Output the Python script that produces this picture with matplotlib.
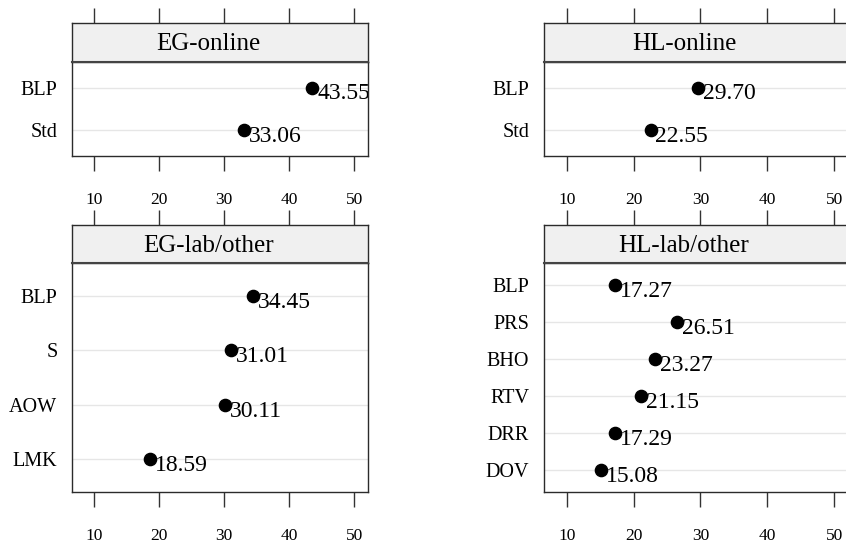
import matplotlib
matplotlib.use("Agg")
import matplotlib.pyplot as plt
from matplotlib.transforms import offset_copy

plt.rcParams['font.family'] = ['Liberation Serif', 'DejaVu Serif']

# Panel contents
eg_online_labels = ["BLP", "Std"]
eg_online_values = [43.55, 33.06]

hl_online_labels = ["BLP", "Std"]
hl_online_values = [29.70, 22.55]

eg_lab_labels = ["BLP", "S", "AOW", "LMK"]
eg_lab_values = [34.45, 31.01, 30.11, 18.59]

hl_lab_labels = ["BLP", "PRS", "BHO", "RTV", "DRR", "DOV"]
hl_lab_values = [17.27, 26.51, 23.27, 21.15, 17.29, 15.08]

x_ticks = [10, 20, 30, 40, 50]
x_limits = (6.57, 52.15)

W, H = 846, 545
fig = plt.figure(figsize=(W / 100, H / 100), dpi=100)


def box(x0, x1, ytop, ybot):
    return [x0 / W, 1 - ybot / H, (x1 - x0) / W, (ybot - ytop) / H]


FRAME = "#2b2b2b"
TICK = "#333333"


def panel(title, labels, values, x0, x1, strip_top, panel_top, panel_bot):
    ax = fig.add_axes(box(x0, x1, panel_top, panel_bot))
    st = fig.add_axes(box(x0, x1, strip_top, panel_top))

    n = len(labels)
    ys = list(range(n, 0, -1))
    ax.set_xlim(*x_limits)
    ax.set_ylim(0.4, n + 0.6)
    for y in ys:
        ax.axhline(y, color="#e6e6e6", lw=1.0, zorder=0)
    ax.plot(values, ys, "o", color="black", ms=8.8, zorder=3, clip_on=False)

    trans = offset_copy(ax.transData, fig=fig, x=3.5, y=-8.5, units="points")
    for v, y in zip(values, ys):
        t = ax.text(v, y, f"{v:.2f}", transform=trans, ha="left",
                    va="baseline", fontsize=17, color="black", zorder=4)
        t.set_clip_on(True)
        t.set_clip_box(ax.bbox)

    ax.set_yticks(ys)
    ax.set_yticklabels(labels)
    ax.set_xticks(x_ticks)
    ax.set_xticklabels([str(t) for t in x_ticks])
    ax.tick_params(axis="y", length=0, pad=10.5, labelsize=14.5)
    ax.tick_params(axis="x", direction="out", length=11, width=1.0,
                   color=TICK, pad=15, labelsize=12.5)
    for s in ax.spines.values():
        s.set_color(FRAME)
        s.set_linewidth(1.0)

    st.set_xlim(*x_limits)
    st.set_ylim(0, 1)
    st.set_facecolor("#f0f0f0")
    st.set_yticks([])
    st.set_xticks(x_ticks)
    st.xaxis.set_ticks_position("top")
    st.tick_params(axis="x", direction="out", length=11, width=1.0,
                   color=TICK, labeltop=False, labelbottom=False)
    for s in st.spines.values():
        s.set_color(FRAME)
        s.set_linewidth(1.0)
    st.spines["bottom"].set_color("#444444")
    st.spines["bottom"].set_linewidth(1.5)
    st.text(0.46, 0.45, title, transform=st.transAxes, ha="center",
            va="center", fontsize=18, color="black")
    return ax


LEFT = (72, 368.3)
RIGHT = (543.7, 848.7)
TOP = (23, 62, 156)
BOTTOM = (225, 263, 492)

panel("EG-online", eg_online_labels, eg_online_values, *LEFT, *TOP)
panel("HL-online", hl_online_labels, hl_online_values, *RIGHT, *TOP)
panel("EG-lab/other", eg_lab_labels, eg_lab_values, *LEFT, *BOTTOM)
panel("HL-lab/other", hl_lab_labels, hl_lab_values, *RIGHT, *BOTTOM)

fig.savefig("out.png", dpi=100, facecolor="white")
